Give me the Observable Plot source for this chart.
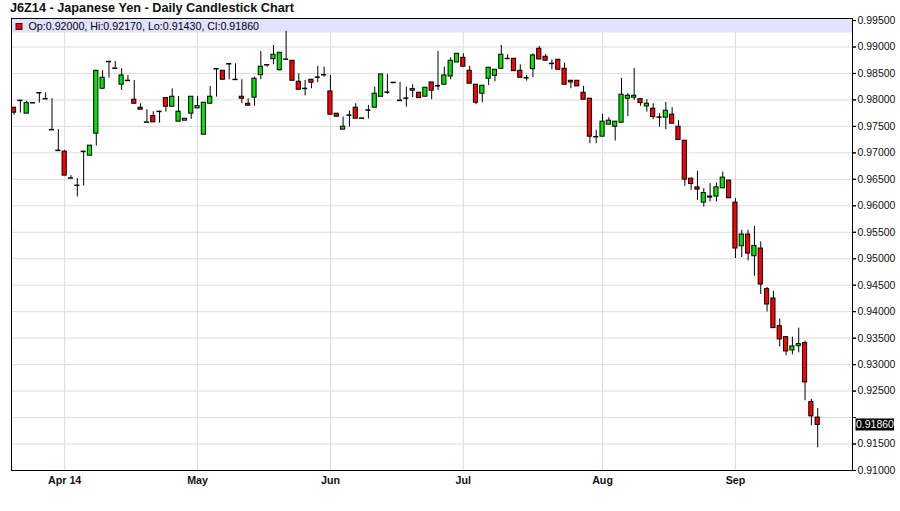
<!DOCTYPE html>
<html>
<head>
<meta charset="utf-8">
<script src="https://cdn.jsdelivr.net/npm/d3@7"></script>
<script src="https://cdn.jsdelivr.net/npm/@observablehq/plot@0.6"></script>
<style>
  html, body { margin: 0; padding: 0; background: #fff; }
  #wrap { position: relative; width: 900px; height: 511px; font-family: "Liberation Sans", Arial, sans-serif; }
  #title { position: absolute; left: 10px; top: 0px; font-size: 12.7px; font-weight: bold; line-height: 16px; color: #111; z-index: 2; }
</style>
</head>
<body>
<div id="wrap">
  <div id="title">J6Z14 - Japanese Yen - Daily Candlestick Chart</div>
</div>
<script>
// Daily OHLC, one entry per trading day (2014-03-20 .. 2014-09-19)
const opens = [
  0.97853,0.97991,0.97740,0.97947,0.98136,0.98023,0.97438,0.97047,0.97023,0.96525,
  0.96387,0.97028,0.96947,0.97362,0.98211,0.98726,0.98600,0.98287,0.98368,0.98004,
  0.97853,0.97581,0.97694,0.97783,0.98034,0.97872,0.97589,0.97608,0.97740,0.97840,
  0.97343,0.97928,0.98589,0.98551,0.98683,0.98387,0.98060,0.97928,0.98042,0.98468,
  0.98664,0.98770,0.98562,0.98770,0.98740,0.98343,0.98217,0.98381,0.98430,0.98476,
  0.98160,0.97740,0.97438,0.97713,0.97853,0.97657,0.97808,0.97853,0.98060,0.98147,
  0.98330,0.97991,0.98034,0.98174,0.98136,0.98060,0.98330,0.98268,0.98287,0.98443,
  0.98708,0.98796,0.98551,0.98287,0.98117,0.98400,0.98457,0.98589,0.98783,0.98777,
  0.98551,0.98419,0.98581,0.98966,0.98815,0.98689,0.98759,0.98589,0.98362,0.98362,
  0.98136,0.98023,0.97306,0.97306,0.97532,0.97494,0.97570,0.98023,0.98042,0.98015,
  0.97877,0.97834,0.97676,0.97664,0.97721,0.97494,0.97230,0.96513,0.96349,0.96060,
  0.96155,0.96174,0.96330,0.96476,0.96060,0.95236,0.95457,0.95047,0.95193,0.94425,
  0.94249,0.93726,0.93519,0.93268,0.93349,0.93406,0.92293,0.92000
];
const highs = [
  0.97859,0.97991,0.97977,0.97947,0.98136,0.98136,0.98023,0.97438,0.97047,0.96570,
  0.96513,0.97028,0.97136,0.98551,0.98551,0.98726,0.98726,0.98589,0.98462,0.98368,
  0.97928,0.97815,0.97777,0.97783,0.98034,0.98211,0.98066,0.97645,0.98060,0.98066,
  0.97947,0.98255,0.98589,0.98551,0.98683,0.98683,0.98381,0.98023,0.98430,0.98915,
  0.98664,0.99028,0.98891,0.99293,0.98740,0.98494,0.98368,0.98381,0.98632,0.98619,
  0.98462,0.97740,0.97676,0.97789,0.97928,0.97657,0.97896,0.98242,0.98481,0.98481,
  0.98330,0.98330,0.98242,0.98287,0.98136,0.98230,0.98330,0.98915,0.98619,0.98796,
  0.98872,0.98872,0.98632,0.98287,0.98268,0.98608,0.98570,0.99028,0.98853,0.98777,
  0.98664,0.98462,0.98872,0.99009,0.98859,0.98759,0.98759,0.98694,0.98362,0.98362,
  0.98255,0.98023,0.97425,0.97727,0.97664,0.97589,0.98406,0.98117,0.98594,0.98015,
  0.98004,0.97928,0.97740,0.97953,0.97853,0.97608,0.97230,0.96513,0.96651,0.96325,
  0.96419,0.96430,0.96638,0.96476,0.96136,0.95538,0.95538,0.95613,0.95317,0.94457,
  0.94387,0.93859,0.93519,0.93519,0.93689,0.93443,0.92343,0.92170
];
const lows = [
  0.97713,0.97751,0.97740,0.97947,0.97940,0.98023,0.97438,0.97047,0.96570,0.96525,
  0.96166,0.96374,0.96947,0.97128,0.98211,0.98411,0.98600,0.98179,0.98368,0.97928,
  0.97815,0.97581,0.97576,0.97562,0.97770,0.97872,0.97589,0.97608,0.97632,0.97840,
  0.97343,0.97928,0.98053,0.98381,0.98381,0.98387,0.97928,0.97891,0.97883,0.98381,
  0.98619,0.98664,0.98543,0.98770,0.98362,0.98192,0.98076,0.98211,0.98325,0.98430,
  0.97721,0.97683,0.97438,0.97487,0.97645,0.97657,0.97638,0.97853,0.98060,0.98104,
  0.98330,0.97991,0.97864,0.98042,0.98034,0.98060,0.98004,0.98179,0.98287,0.98381,
  0.98708,0.98627,0.98306,0.97910,0.97947,0.98274,0.98343,0.98589,0.98764,0.98543,
  0.98419,0.98355,0.98419,0.98764,0.98740,0.98570,0.98570,0.98287,0.98211,0.98255,
  0.98004,0.97174,0.97174,0.97306,0.97532,0.97223,0.97570,0.97683,0.97991,0.97883,
  0.97770,0.97626,0.97487,0.97438,0.97551,0.97242,0.96368,0.96293,0.96104,0.95977,
  0.96072,0.96072,0.96330,0.96142,0.95004,0.95023,0.94959,0.94670,0.94325,0.93996,
  0.93689,0.93336,0.93166,0.93185,0.93223,0.92317,0.91845,0.91430
];
const closes = [
  0.97759,0.97991,0.97940,0.97947,0.98136,0.98023,0.97438,0.97047,0.96570,0.96525,
  0.96387,0.97028,0.97136,0.98551,0.98419,0.98726,0.98600,0.98462,0.98368,0.97928,
  0.97815,0.97581,0.97576,0.97783,0.97872,0.98060,0.97777,0.97645,0.98060,0.97883,
  0.97947,0.98060,0.98589,0.98381,0.98683,0.98387,0.98023,0.97891,0.98400,0.98627,
  0.98664,0.98853,0.98891,0.98770,0.98362,0.98192,0.98217,0.98325,0.98430,0.98476,
  0.97721,0.97683,0.97494,0.97713,0.97645,0.97657,0.97808,0.98117,0.98481,0.98147,
  0.98330,0.97991,0.98034,0.98204,0.98034,0.98230,0.98174,0.98268,0.98462,0.98740,
  0.98872,0.98627,0.98306,0.97947,0.98268,0.98608,0.98570,0.98853,0.98783,0.98543,
  0.98419,0.98419,0.98840,0.98764,0.98740,0.98689,0.98570,0.98287,0.98330,0.98255,
  0.98004,0.97306,0.97306,0.97589,0.97608,0.97589,0.98098,0.98079,0.98079,0.97940,
  0.97928,0.97676,0.97676,0.97796,0.97551,0.97242,0.96494,0.96411,0.96306,0.96242,
  0.96174,0.96349,0.96532,0.96142,0.95193,0.95457,0.95098,0.95242,0.94513,0.94136,
  0.93689,0.93476,0.93249,0.93343,0.93387,0.92664,0.92023,0.91860
];
// x axis: trading-day index of each month's first session, and its label
const monthTickIndex = [8, 29, 50, 71, 93, 114];
const monthTickLabel = ["Apr 14", "May", "Jun", "Jul", "Aug", "Sep"];
// y axis ticks
const yTicks = [0.910,0.915,0.920,0.925,0.930,0.935,0.940,0.945,0.950,0.955,0.960,0.965,0.970,0.975,0.980,0.985,0.990,0.995];

const RED = "#ff0000", GREEN = "#00e600";
const fmt = d3.format(".5f");
const data = opens.map((o, i) => ({i, o, h: highs[i], l: lows[i], c: closes[i]}));
const bodies = data.filter(d => d.o !== d.c);
const dojis = data.filter(d => d.o === d.c);
const last = data[data.length - 1];
// the last-price box hides any tick label it would sit on
const labelTicks = yTicks.filter(t => Math.abs(t - last.c) > 0.0018);

const legendMark = (index, scales, values, dims) => {
  const {marginLeft: ml, marginTop: mt, marginRight: mr, width: w} = dims;
  const g = d3.create("svg:g");
  g.append("rect").attr("x", ml).attr("y", mt).attr("width", w - ml - mr).attr("height", 14.5).attr("fill", "#e2e2ff");
  g.append("rect").attr("x", ml + 5).attr("y", mt + 5.5).attr("width", 6).attr("height", 6)
    .attr("fill", last.c >= last.o ? GREEN : RED).attr("stroke", "#222").attr("stroke-width", 1);
  g.append("text").attr("x", ml + 17.5).attr("y", mt + 12).attr("font-size", "10.7px").attr("fill", "#000")
    .attr("text-anchor", "start")
    .text(`Op:${fmt(last.o)}, Hi:${fmt(last.h)}, Lo:${fmt(last.l)}, Cl:${fmt(last.c)}`);
  return g.node();
};

const priceMark = (index, scales, values, dims) => {
  const {marginRight: mr, width: w} = dims;
  const yc = scales.y(last.c);
  const g = d3.create("svg:g");
  g.append("rect").attr("x", w - mr + 3.5).attr("y", yc - 6).attr("width", 38.5).attr("height", 12).attr("fill", "#000");
  g.append("text").attr("x", w - mr + 4).attr("y", yc + 4).attr("font-size", "10.5px").attr("fill", "#fff")
    .attr("text-anchor", "start")
    .text(fmt(last.c));
  return g.node();
};

const chart = Plot.plot({
  width: 900,
  height: 511,
  marginTop: 18,
  marginBottom: 41,
  marginLeft: 11,
  marginRight: 48,
  style: {fontFamily: "'Liberation Sans', Arial, sans-serif", fontSize: "10.5px", background: "#fff", color: "#000"},
  x: {type: "linear", domain: [-0.4, 132.5], axis: null},
  y: {type: "linear", domain: [0.91, 0.99538], axis: null},
  color: {type: "identity"},
  marks: [
    Plot.gridY(yTicks, {stroke: "#dcdcdc", strokeOpacity: 1}),
    Plot.gridX(monthTickIndex, {stroke: "#dcdcdc", strokeOpacity: 1}),
    legendMark,
    Plot.ruleX(data, {x: "i", y1: "l", y2: "h", stroke: "#000", strokeWidth: 1}),
    Plot.rect(bodies, {x1: d => d.i - 0.33, x2: d => d.i + 0.33, y1: "o", y2: "c",
      fill: d => d.c > d.o ? GREEN : RED, stroke: "#000", strokeWidth: 1}),
    Plot.ruleY(dojis, {x1: d => d.i - 0.4, x2: d => d.i + 0.4, y: "o", stroke: "#000", strokeWidth: 1.5}),
    Plot.frame({stroke: "#000", strokeWidth: 1}),
    Plot.axisY({ticks: yTicks, anchor: "right", tickSize: 3, text: null, stroke: "#000", label: null}),
    Plot.axisY({ticks: labelTicks, anchor: "right", tickFormat: fmt, tickSize: 3, tickPadding: 2,
      fontSize: 10.5, stroke: "#000", fill: "#111", label: null}),
    Plot.axisX({ticks: monthTickIndex, anchor: "bottom", tickSize: 0, tickPadding: 6, label: null,
      tickFormat: d => monthTickLabel[monthTickIndex.indexOf(d)], fontSize: 10.7, fontWeight: "bold", fill: "#111"}),
    priceMark
  ]
});
document.getElementById("wrap").prepend(chart);
chart.style.position = "absolute";
chart.style.left = "0";
chart.style.top = "0";
</script>
</body>
</html>
